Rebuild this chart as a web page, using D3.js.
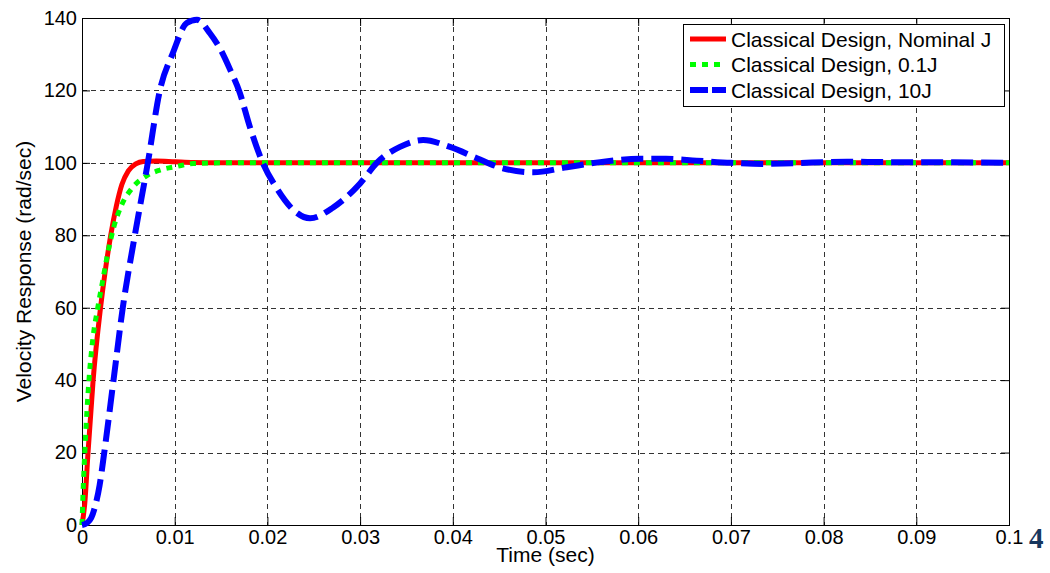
<!DOCTYPE html>
<html>
<head>
<meta charset="utf-8">
<script src="https://cdn.jsdelivr.net/npm/d3@7"></script>
<style>
  html, body { margin: 0; padding: 0; background: #fff; overflow: hidden; }
  svg { display: block; }
  text { font-family: Arial, "Liberation Sans", sans-serif; fill: #000; }
</style>
</head>
<body>
<svg width="1050" height="573"></svg>
<script>
// time (sec) and velocity (rad/sec)
const nominalT = [0, 0.0003, 0.00065, 0.0012, 0.002, 0.0025, 0.0031, 0.0037, 0.0043, 0.005, 0.0058, 0.0066, 0.008, 0.01, 0.012, 0.015, 0.1]
const nominalV = [0, 6, 20, 40, 60, 70, 80, 88, 94, 97.8, 99.7, 100.4, 100.5, 100.3, 100.1, 100, 100]

const tenthT = [0, 0.0001, 0.0003, 0.00075, 0.0012, 0.0017, 0.0022, 0.0027, 0.0034, 0.0043, 0.0054, 0.007, 0.0084, 0.0102, 0.012, 0.015, 0.1]
const tenthV = [0, 8, 20, 40, 52, 60, 67, 74, 82, 88.5, 93, 96.5, 98, 99, 99.8, 100, 100]

const tenJT = [0, 0.0005, 0.001, 0.0014, 0.0019, 0.0024, 0.0034, 0.0044, 0.0057, 0.0071, 0.0084, 0.0098, 0.0113, 0.0124, 0.0138, 0.0149, 0.016, 0.017, 0.0181, 0.0195, 0.021, 0.0228, 0.0246, 0.0271, 0.03, 0.0318, 0.0343, 0.0368, 0.0397, 0.0426, 0.0454, 0.0487, 0.0523, 0.0559, 0.0602, 0.063, 0.0663, 0.07, 0.0735, 0.0767, 0.0825, 0.087, 0.0907, 0.1]
const tenJV = [0, 0.5, 2, 5, 11, 20, 40, 60, 80, 100, 120, 130.3, 138.6, 139.5, 135.8, 131.5, 125.6, 119.5, 110, 100, 93, 87, 84.7, 87.7, 94.3, 100, 104.4, 106.3, 104.4, 101.3, 98.5, 97.4, 98.8, 100.2, 101.1, 101.1, 100.6, 100, 99.7, 99.9, 100.3, 100.2, 100.2, 100]

const xTicks = [0, 0.01, 0.02, 0.03, 0.04, 0.05, 0.06, 0.07, 0.08, 0.09, 0.1]
const yTicks = [0, 20, 40, 60, 80, 100, 120, 140]
const legendLabels = ['Classical Design, Nominal J', 'Classical Design, 0.1J', 'Classical Design, 10J']

const svg = d3.select('svg')
const margin = {left: 82, right: 41, top: 18, bottom: 48}
const width = +svg.attr('width')
const height = +svg.attr('height')
const innerWidth = width - margin.left - margin.right
const innerHeight = height - margin.top - margin.bottom
const fontSize = 21
const tickFontSize = 20

const xScale = d3.scaleLinear().domain([0, 0.1]).range([0, innerWidth])
const yScale = d3.scaleLinear().domain([0, 140]).range([innerHeight, 0])

const g = svg.append('g')
  .attr('transform', `translate(${margin.left}, ${margin.top})`)

// dashed grid
g.append('g').selectAll('line')
  .data(xTicks.slice(1, -1))
  .enter().append('line')
    .attr('x1', d => Math.round(xScale(d)) + 0.5)
    .attr('x2', d => Math.round(xScale(d)) + 0.5)
    .attr('y1', 0)
    .attr('y2', innerHeight)
    .attr('stroke', '#333')
    .attr('stroke-dasharray', '5,4')

g.append('g').selectAll('line')
  .data(yTicks.slice(1, -1))
  .enter().append('line')
    .attr('y1', d => Math.round(yScale(d)) + 0.5)
    .attr('y2', d => Math.round(yScale(d)) + 0.5)
    .attr('x1', 0)
    .attr('x2', innerWidth)
    .attr('stroke', '#333')
    .attr('stroke-dasharray', '5,4')

// axes, ticks pointing inwards
const fmtX = d => d === 0 ? '0' : d3.format('.2~f')(d)
const xAxisG = g.append('g')
  .attr('transform', `translate(0, ${innerHeight})`)
  .call(d3.axisBottom(xScale).tickValues(xTicks).tickFormat(fmtX)
    .tickSizeInner(-8).tickSizeOuter(0).tickPadding(5))
g.append('g')
  .call(d3.axisLeft(yScale).tickValues(yTicks)
    .tickSizeInner(-8).tickSizeOuter(0).tickPadding(5))

const topAxisG = g.append('g')
  .call(d3.axisTop(xScale).tickValues(xTicks)
    .tickSizeInner(-8).tickSizeOuter(0))
const rightAxisG = g.append('g')
  .attr('transform', `translate(${innerWidth}, 0)`)
  .call(d3.axisRight(yScale).tickValues(yTicks)
    .tickSizeInner(-8).tickSizeOuter(0))
topAxisG.selectAll('text').remove()
rightAxisG.selectAll('text').remove()

g.selectAll('.domain').remove()
g.selectAll('.tick text')
  .attr('font-size', tickFontSize)
  .attr('font-family', 'Arial, "Liberation Sans", sans-serif')
  .attr('fill', '#000')

g.append('rect')
  .attr('x', 0.5).attr('y', 0.5)
  .attr('width', innerWidth).attr('height', innerHeight)
  .attr('fill', 'none')
  .attr('stroke', '#000')

xAxisG.append('text')
  .attr('x', innerWidth / 2)
  .attr('y', 37)
  .attr('text-anchor', 'middle')
  .attr('font-size', fontSize)
  .attr('fill', '#000')
  .text('Time (sec)')

g.append('text')
  .attr('transform', `translate(-51, ${innerHeight / 2}) rotate(-90)`)
  .attr('text-anchor', 'middle')
  .attr('font-size', fontSize)
  .text('Velocity Response (rad/sec)')

// curves
const line = d3.line()
  .x(d => xScale(d[0]))
  .y(d => yScale(d[1]))
  .curve(d3.curveMonotoneX)

const series = [
  {t: nominalT, v: nominalV, color: '#ff0000', width: 5, dash: null},
  {t: tenthT, v: tenthV, color: '#00ff00', width: 5, dash: '6,6'},
  {t: tenJT, v: tenJV, color: '#0000ff', width: 6, dash: '22,8'}
]

series.forEach(s => {
  g.append('path')
    .datum(d3.zip(s.t, s.v))
    .attr('d', line)
    .attr('fill', 'none')
    .attr('stroke', s.color)
    .attr('stroke-width', s.width)
    .attr('stroke-dasharray', s.dash)
})

// legend
const legend = svg.append('g')
  .attr('transform', 'translate(683, 24)')

legend.append('rect')
  .attr('x', 0.5).attr('y', 0.5)
  .attr('width', 321).attr('height', 82)
  .attr('fill', '#fff')
  .attr('stroke', '#000')

series.forEach((s, i) => {
  const cy = 15 + i * 25.5
  legend.append('line')
    .attr('x1', 7).attr('x2', 43)
    .attr('y1', cy).attr('y2', cy)
    .attr('stroke', s.color)
    .attr('stroke-width', s.width)
    .attr('stroke-dasharray', s.dash ? (i === 1 ? '6,6' : '18,4') : null)
  legend.append('text')
    .attr('x', 48)
    .attr('y', cy + 7.5)
    .attr('font-size', fontSize)
    .text(legendLabels[i])
})

// page number beside the chart
svg.append('text')
  .attr('x', 1029)
  .attr('y', 548)
  .attr('font-size', 29)
  .attr('font-weight', 'bold')
  .style('font-family', '"Liberation Serif", "DejaVu Serif", serif')
  .style('fill', '#17365d')
  .text('4')
</script>
</body>
</html>
